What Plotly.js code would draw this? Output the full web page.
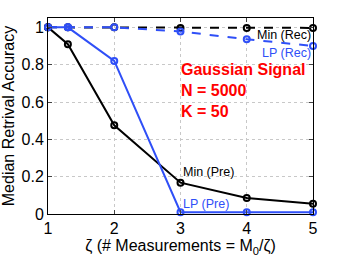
<!DOCTYPE html>
<html><head><meta charset="utf-8">
<script src="https://cdn.plot.ly/plotly-3.0.1.min.js"></script>
<style>body{margin:0;background:#fff}#c{width:346px;height:260px}</style>
</head><body><div id="c"></div>
<script>
var zeta = [1, 1.3, 2, 3, 4, 5];
var minPre = [1, 0.91, 0.475, 0.168, 0.086, 0.055];
var lpPre = [1, 1, 0.82, 0.01, 0.01, 0.01];
var minRec = [1, 1, 1, 0.997, 0.997, 0.997];
var lpRec = [1, 1, 1, 0.978, 0.936, 0.9];
var xTicks = [1, 2, 3, 4, 5];
var yTicks = [0, 0.2, 0.4, 0.6, 0.8, 1];

function tr(y, color, dash) {
  return {x: zeta, y: y, mode: 'lines+markers', type: 'scatter',
    line: {color: color, width: 2, dash: dash},
    marker: {symbol: 'circle-open', size: 6, color: color, line: {width: 2, color: color}},
    cliponaxis: false, showlegend: false};
}
var data = [tr(minRec, '#000000', 'dash'), tr(lpRec, '#2f4ff7', 'dash'), tr(minPre, '#000000', 'solid'), tr(lpPre, '#2f4ff7', 'solid')];
var F = 'Liberation Sans, Arial, sans-serif';
var layout = {
  width: 346, height: 260,
  margin: {l: 48, r: 33, t: 18, b: 46},
  paper_bgcolor: '#fff', plot_bgcolor: '#fff',
  font: {family: F, size: 16, color: '#000'},
  xaxis: {range: [1, 5], tickvals: xTicks, ticks: 'inside', ticklen: 4, mirror: 'ticks', showline: true, linecolor: '#000', linewidth: 1,
    showgrid: true, gridcolor: '#c8c8c8', griddash: 'dot', zeroline: false, tickfont: {size: 16},
    title: {text: 'ζ (# Measurements = M<sub>0</sub>/ζ)', font: {size: 16}, standoff: 1}},
  yaxis: {range: [0, 1.05], tickvals: yTicks, ticktext: ['0','0.2','0.4','0.6','0.8','1'], ticks: 'inside', ticklen: 4, mirror: 'ticks', showline: true, linecolor: '#000', linewidth: 1,
    showgrid: true, gridcolor: '#c8c8c8', griddash: 'dot', zeroline: false, tickfont: {size: 16},
    title: {text: 'Median Retrival Accuracy', font: {size: 16}, standoff: 3}},
  annotations: [
    {x: 5, y: 0.96, text: 'Min (Rec)', showarrow: false, xanchor: 'right', yanchor: 'middle', font: {size: 12.5, color: '#000'}},
    {x: 5, y: 0.86, text: 'LP (Rec)', showarrow: false, xanchor: 'right', yanchor: 'middle', font: {size: 12.5, color: '#2f4ff7'}},
    {x: 3, y: 0.225, text: 'Min (Pre)', showarrow: false, xanchor: 'left', yanchor: 'middle', font: {size: 12.5, color: '#000'}},
    {x: 3, y: 0.055, text: 'LP (Pre)', showarrow: false, xanchor: 'left', yanchor: 'middle', font: {size: 12.5, color: '#2f4ff7'}},
    {x: 2.97, y: 0.66, text: '<b>Gaussian Signal<br>N = 5000<br>K = 50</b>', showarrow: false, xanchor: 'left', yanchor: 'middle', align: 'left', font: {size: 16, color: '#ff0000'}}
  ]
};
Plotly.newPlot('c', data, layout, {displayModeBar: false, staticPlot: true});
</script></body></html>
